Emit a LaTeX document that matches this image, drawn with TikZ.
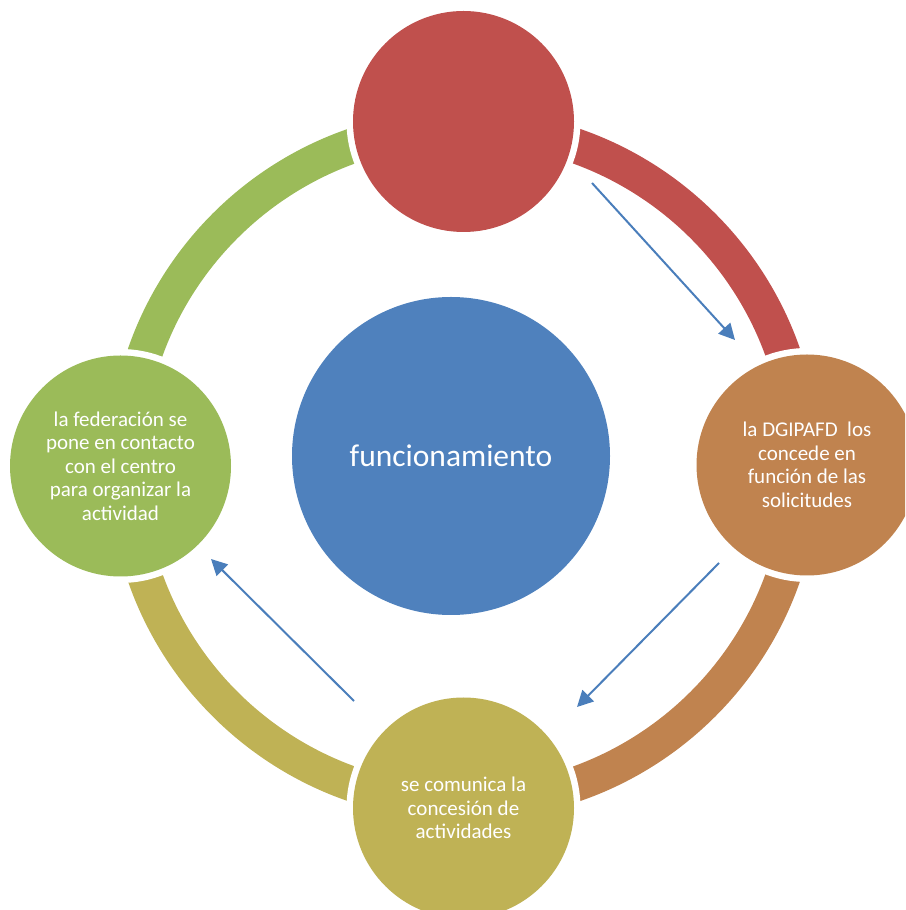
\documentclass[tikz,border=0pt]{standalone}
\usepackage{fontspec}
\setmainfont{Carlito}
\usetikzlibrary{arrows.meta,calc}
\definecolor{cred}{HTML}{C0504D}
\definecolor{corange}{HTML}{C0834F}
\definecolor{colive}{HTML}{BFB255}
\definecolor{cgreen}{HTML}{9BBB59}
\definecolor{cblue}{HTML}{4F81BD}
\definecolor{carrow}{HTML}{4A7EBB}
\tikzset{
  ringarc/.style={line width=35pt, line cap=butt},
  halo/.style={circle, fill=white, minimum size=234pt, inner sep=0pt},
  stage/.style={circle, minimum size=221pt, inner sep=0pt, text=white, align=center,
    font=\fontsize{21}{23.5}\selectfont},
  hub/.style={circle, fill=cblue, minimum size=318pt, inner sep=0pt, text=white,
    font=\fontsize{31.5}{36}\selectfont},
  flow/.style={draw=carrow, line width=2pt, -{Triangle[length=16pt,width=16pt]}}
}
\begin{document}
\begin{tikzpicture}[x=1pt,y=1pt]
\useasboundingbox (0,0) rectangle (905,910);
\clip (0,0) rectangle (905,910);
\coordinate (C) at (464,445);
% ring segments
\draw[ringarc, cred]    ($(C)+(90:338)$)  arc[start angle=90,  end angle=0,    radius=338];
\draw[ringarc, corange] ($(C)+(0:338)$)   arc[start angle=0,   end angle=-90,  radius=338];
\draw[ringarc, colive]  ($(C)+(-90:338)$) arc[start angle=-90, end angle=-180, radius=338];
\draw[ringarc, cgreen]  ($(C)+(180:338)$) arc[start angle=180, end angle=90,   radius=338];
% white halos
\node[halo] at (463.5,788.5) {};
\node[halo] at (807,445) {};
\node[halo] at (463.5,102) {};
\node[halo] at (120.5,444) {};
% stage circles
\node[stage, fill=cred] (top) at (463.5,788.5) {};
\node[stage, fill=corange] (right) at (807,445) {la DGIPAFD~ los\\concede en\\función de las\\solicitudes};
\node[stage, fill=colive] (bottom) at (463.5,102) {se comunica la\\concesión de\\actividades};
\node[stage, fill=cgreen] (left) at (120.5,444) {la federación se\\pone en contacto\\con el centro\\para organizar la\\actividad};
% hub
\node[hub] (hub) at (451,454) {funcionamiento};
% arrows
\coordinate (a1s) at (592,727);
\coordinate (a1e) at (735,570);
\coordinate (a2s) at (719,347);
\coordinate (a2e) at (577,203);
\coordinate (a3s) at (354,209);
\coordinate (a3e) at (211,351);
\draw[flow] (a1s) -- (a1e);
\draw[flow] (a2s) -- (a2e);
\draw[flow] (a3s) -- (a3e);
\end{tikzpicture}
\end{document}
